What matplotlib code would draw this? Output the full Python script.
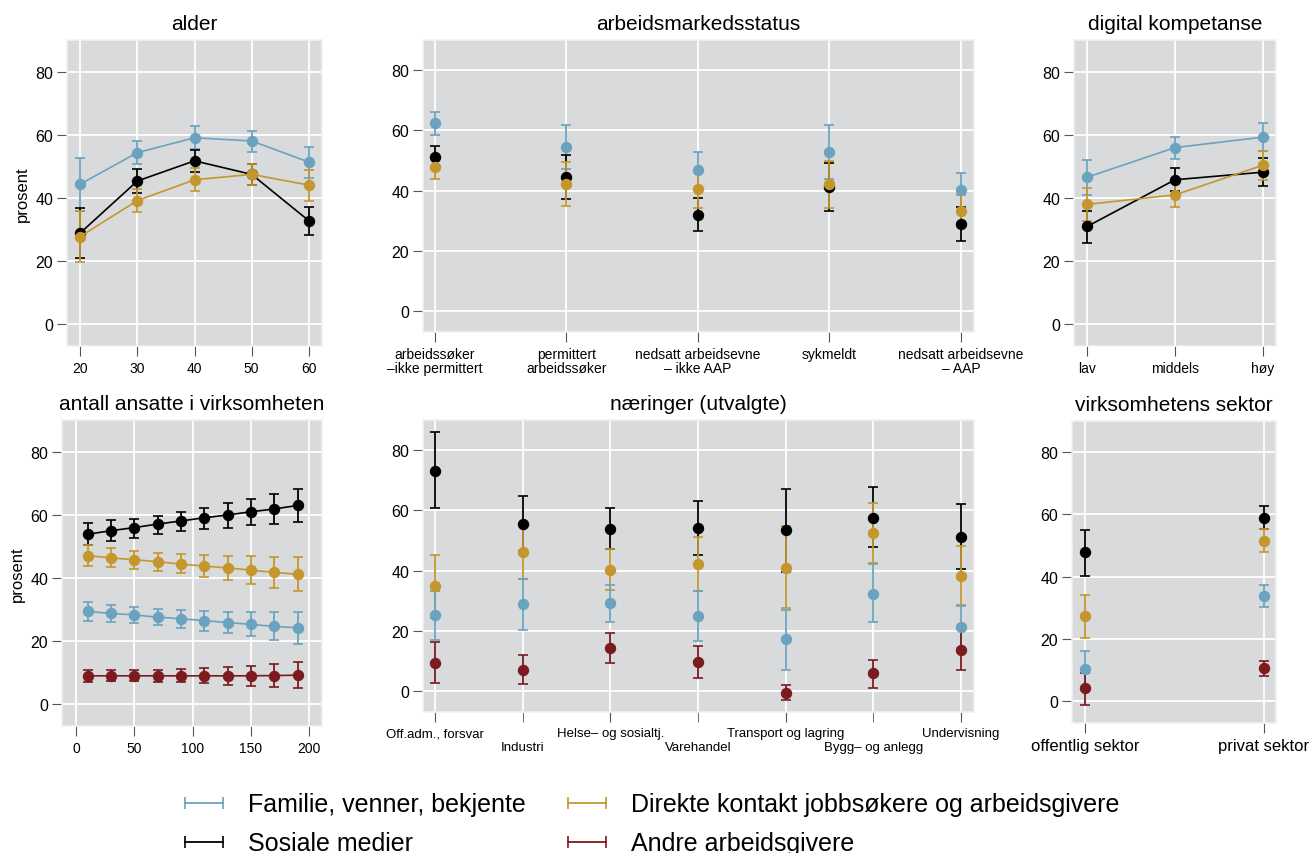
import numpy as np
import matplotlib.pyplot as plt
from matplotlib.lines import Line2D

plt.rcParams['font.family'] = ['Liberation Sans', 'DejaVu Sans']

BLUE = '#6aa3c0'
GOLD = '#c4972c'
BLACK = '#000000'
RED = '#7b1a1f'

series_names = ['Familie, venner, bekjente', 'Direkte kontakt jobbsøkere og arbeidsgivere',
                'Sosiale medier', 'Andre arbeidsgivere']

# alder
alder_x = [20, 30, 40, 50, 60]
alder_blue = [44.3, 54.3, 59.0, 58.0, 51.3]
alder_blue_lo = [35.9, 50.7, 55.4, 54.5, 46.2]
alder_blue_hi = [52.7, 58.1, 62.6, 61.3, 56.2]
alder_black = [28.8, 45.3, 51.7, 47.4, 32.7]
alder_black_lo = [20.9, 41.6, 48.0, 44.1, 28.1]
alder_black_hi = [36.8, 49.0, 55.0, 50.7, 37.2]
alder_gold = [27.7, 39.1, 45.7, 47.4, 44.0]
alder_gold_lo = [19.5, 35.4, 42.2, 44.0, 39.0]
alder_gold_hi = [35.9, 42.9, 49.4, 50.6, 48.8]

# arbeidsmarkedsstatus
status_labels = ['arbeidssøker\n–ikke permittert', 'permittert\narbeidssøker',
                 'nedsatt arbeidsevne\n– ikke AAP', 'sykmeldt', 'nedsatt arbeidsevne\n– AAP']
status_blue = [62.4, 54.4, 46.8, 52.7, 40.3]
status_blue_lo = [58.6, 47.2, 40.7, 43.7, 34.6]
status_blue_hi = [66.2, 61.8, 52.9, 61.6, 45.8]
status_gold = [47.8, 42.0, 40.5, 42.0, 33.2]
status_gold_lo = [43.9, 34.8, 34.1, 34.3, 27.9]
status_gold_hi = [51.7, 49.4, 46.9, 49.8, 38.5]
status_black = [51.1, 44.4, 32.0, 41.3, 28.9]
status_black_lo = [47.4, 37.1, 26.5, 33.3, 23.2]
status_black_hi = [54.8, 51.8, 37.5, 49.3, 34.5]

# digital kompetanse
dig_labels = ['lav', 'middels', 'høy']
dig_blue = [46.5, 55.9, 59.2]
dig_blue_lo = [40.9, 52.3, 54.7]
dig_blue_hi = [52.0, 59.4, 63.8]
dig_gold = [37.9, 40.9, 50.3]
dig_gold_lo = [32.5, 37.2, 45.6]
dig_gold_hi = [43.2, 44.6, 54.9]
dig_black = [30.9, 45.7, 48.1]
dig_black_lo = [25.6, 42.0, 43.7]
dig_black_hi = [35.9, 49.4, 52.7]

# antall ansatte
ans_x = [10, 30, 50, 70, 90, 110, 130, 150, 170, 190]
ans_black = [53.8, 54.9, 55.9, 57.0, 58.0, 59.0, 59.9, 60.9, 61.8, 62.9]
ans_black_lo = [50.4, 51.7, 52.7, 54.0, 54.9, 55.4, 55.9, 56.7, 57.1, 57.7]
ans_black_hi = [57.2, 58.2, 58.7, 59.5, 60.9, 62.2, 63.6, 65.0, 66.6, 68.2]
ans_gold = [47.0, 46.3, 45.7, 45.1, 44.3, 43.7, 43.1, 42.4, 41.7, 41.1]
ans_gold_lo = [43.8, 43.5, 42.7, 42.2, 41.4, 40.3, 39.3, 38.0, 36.9, 35.7]
ans_gold_hi = [50.3, 49.3, 48.5, 47.9, 47.5, 47.2, 46.9, 46.8, 46.7, 46.7]
ans_blue = [29.3, 28.7, 28.2, 27.5, 27.0, 26.4, 25.8, 25.2, 24.6, 24.1]
ans_blue_lo = [26.4, 26.1, 25.5, 24.9, 24.2, 23.2, 22.5, 21.4, 20.3, 19.0]
ans_blue_hi = [32.2, 31.5, 30.7, 30.2, 29.7, 29.6, 29.2, 29.1, 29.1, 29.0]
ans_red = [8.9, 8.9, 8.9, 8.9, 8.9, 8.9, 8.9, 8.9, 9.0, 9.1]
ans_red_lo = [7.1, 7.2, 7.2, 7.1, 7.0, 6.5, 6.1, 5.8, 5.5, 5.1]
ans_red_hi = [10.8, 10.6, 10.6, 10.9, 11.0, 11.3, 11.8, 12.1, 12.7, 13.2]

# næringer
nar_labels = ['Off.adm., forsvar', 'Industri', 'Helse– og sosialtj.', 'Varehandel',
              'Transport og lagring', 'Bygg– og anlegg', 'Undervisning']
nar_black = [73.2, 55.6, 53.8, 54.1, 53.3, 57.6, 51.2]
nar_black_lo = [60.7, 46.6, 47.0, 45.2, 39.4, 47.7, 40.4]
nar_black_hi = [85.9, 64.6, 60.8, 63.0, 67.2, 67.6, 62.2]
nar_gold = [34.8, 46.1, 40.3, 42.2, 41.0, 52.3, 38.1]
nar_gold_lo = [24.3, 37.2, 33.6, 33.2, 27.6, 42.6, 28.7]
nar_gold_hi = [45.3, 55.0, 47.0, 51.0, 54.7, 62.4, 48.0]
nar_blue = [25.2, 28.8, 29.1, 24.9, 17.1, 32.2, 21.3]
nar_blue_lo = [16.9, 20.3, 22.9, 16.6, 6.9, 22.9, 14.3]
nar_blue_hi = [33.3, 37.2, 35.3, 33.1, 27.0, 42.1, 28.3]
nar_red = [9.4, 7.0, 14.3, 9.7, -0.6, 5.8, 13.7]
nar_red_lo = [2.6, 2.2, 9.3, 4.3, -3.1, 1.1, 6.9]
nar_red_hi = [16.3, 11.9, 19.3, 15.0, 2.0, 10.4, 20.5]

# sektor
sek_labels = ['offentlig sektor', 'privat sektor']
sek_black = [47.8, 59.0]
sek_black_lo = [40.1, 55.3]
sek_black_hi = [55.1, 62.7]
sek_gold = [27.3, 51.6]
sek_gold_lo = [20.2, 47.9]
sek_gold_hi = [34.2, 55.3]
sek_blue = [10.3, 33.8]
sek_blue_lo = [4.6, 30.3]
sek_blue_hi = [16.0, 37.4]
sek_red = [4.1, 10.7]
sek_red_lo = [-1.1, 8.2]
sek_red_hi = [8.9, 13.0]

W, H = 1310, 854
fig = plt.figure(figsize=(W / 100, H / 100), dpi=100)


def make_ax(left, top, right, bottom):
    ax = fig.add_axes([left / W, 1 - bottom / H, (right - left) / W, (bottom - top) / H])
    ax.set_facecolor('#d9dadb')
    for s in ax.spines.values():
        s.set_color('#f2f2f2')
        s.set_linewidth(1.2)
    ax.grid(True, color='white', lw=1.3)
    ax.set_axisbelow(True)
    ax.set_ylim(-7, 90)
    ax.set_yticks([0, 20, 40, 60, 80])
    ax.tick_params(axis='y', length=7, color='#555555', labelsize=11.5, pad=3)
    ax.tick_params(axis='x', length=7, color='#555555', labelsize=10, pad=4)
    return ax


def eb(ax, x, y, lo, hi, color, line=False, z=3):
    y = np.array(y)
    err = [y - np.array(lo), np.array(hi) - y]
    ax.errorbar(x, y, yerr=err, fmt='-o' if line else 'o', color=color, ms=7.2,
                lw=1.2, elinewidth=1.3, capsize=3.5, capthick=1.2, zorder=z)


# alder
ax = make_ax(67, 41, 322, 347)
eb(ax, alder_x, alder_blue, alder_blue_lo, alder_blue_hi, BLUE, True)
eb(ax, alder_x, alder_black, alder_black_lo, alder_black_hi, BLACK, True)
eb(ax, alder_x, alder_gold, alder_gold_lo, alder_gold_hi, GOLD, True)
ax.set_xlim(17.7, 62.3)
ax.set_xticks(alder_x)
ax.set_title('alder', fontsize=15, pad=8)
ax.set_ylabel('prosent', fontsize=12)

# arbeidsmarkedsstatus
ax = make_ax(423, 41, 974, 333)
xs = np.arange(1, len(status_labels) + 1)
eb(ax, xs, status_blue, status_blue_lo, status_blue_hi, BLUE)
eb(ax, xs, status_black, status_black_lo, status_black_hi, BLACK)
eb(ax, xs, status_gold, status_gold_lo, status_gold_hi, GOLD)
ax.set_xlim(0.91, 5.1)
ax.set_xticks(xs)
ax.set_xticklabels(status_labels, fontsize=10, linespacing=1.0)
ax.set_title('arbeidsmarkedsstatus', fontsize=15, pad=8)

# digital kompetanse
ax = make_ax(1074, 41, 1276, 347)
xs = np.arange(1, 4)
eb(ax, xs, dig_blue, dig_blue_lo, dig_blue_hi, BLUE, True)
eb(ax, xs, dig_black, dig_black_lo, dig_black_hi, BLACK, True)
eb(ax, xs, dig_gold, dig_gold_lo, dig_gold_hi, GOLD, True)
ax.set_xlim(0.85, 3.15)
ax.set_xticks(xs)
ax.set_xticklabels(dig_labels)
ax.set_title('digital kompetanse', fontsize=15, pad=8)

# antall ansatte
ax = make_ax(62, 421, 322, 727)
eb(ax, ans_x, ans_black, ans_black_lo, ans_black_hi, BLACK, True)
eb(ax, ans_x, ans_gold, ans_gold_lo, ans_gold_hi, GOLD, True)
eb(ax, ans_x, ans_blue, ans_blue_lo, ans_blue_hi, BLUE, True)
eb(ax, ans_x, ans_red, ans_red_lo, ans_red_hi, RED, True)
ax.set_xlim(-12, 211)
ax.set_xticks([0, 50, 100, 150, 200])
ax.set_title('antall ansatte i virksomheten', fontsize=15, pad=8)
ax.set_ylabel('prosent', fontsize=12)

# næringer
ax = make_ax(423, 421, 974, 713)
xs = np.arange(1, len(nar_labels) + 1)
eb(ax, xs, nar_black, nar_black_lo, nar_black_hi, BLACK)
eb(ax, xs, nar_gold, nar_gold_lo, nar_gold_hi, GOLD)
eb(ax, xs, nar_blue, nar_blue_lo, nar_blue_hi, BLUE)
eb(ax, xs, nar_red, nar_red_lo, nar_red_hi, RED)
ax.set_xlim(0.86, 7.15)
# staggered labels: odd positions on first row, even on second row
ax.set_xticks(xs[::2])
ax.set_xticklabels(nar_labels[::2], fontsize=9.5)
ax.set_xticks(xs[1::2], minor=True)
ax.set_xticklabels(nar_labels[1::2], minor=True, fontsize=9.5)
ax.tick_params(axis='x', which='minor', length=7, color='#555555', pad=14)
ax.grid(True, which='minor', axis='x', color='white', lw=1.3)
ax.set_title('næringer (utvalgte)', fontsize=15, pad=8)

# sektor
ax = make_ax(1072, 422, 1276, 724)
xs = np.arange(1, 3)
eb(ax, xs, sek_black, sek_black_lo, sek_black_hi, BLACK)
eb(ax, xs, sek_gold, sek_gold_lo, sek_gold_hi, GOLD)
eb(ax, xs, sek_blue, sek_blue_lo, sek_blue_hi, BLUE)
eb(ax, xs, sek_red, sek_red_lo, sek_red_hi, RED)
ax.set_xlim(0.927, 2.07)
ax.set_xticks(xs)
ax.set_xticklabels(sek_labels, fontsize=12)
ax.set_title('virksomhetens sektor', fontsize=15, pad=8)

handles = [Line2D([], [], color=c, marker='|', ms=9, mew=1.2, lw=1.3)
           for c in [BLUE, BLACK, GOLD, RED]]
labels = [series_names[0], series_names[2], series_names[1], series_names[3]]
fig.legend(handles, labels, loc='center', bbox_to_anchor=(0.495, 1 - 825 / H), ncol=2,
           frameon=False, fontsize=18, numpoints=2, handlelength=2.1,
           handletextpad=0.7, columnspacing=1.4, labelspacing=0.6)

fig.savefig('out.png', dpi=100)
